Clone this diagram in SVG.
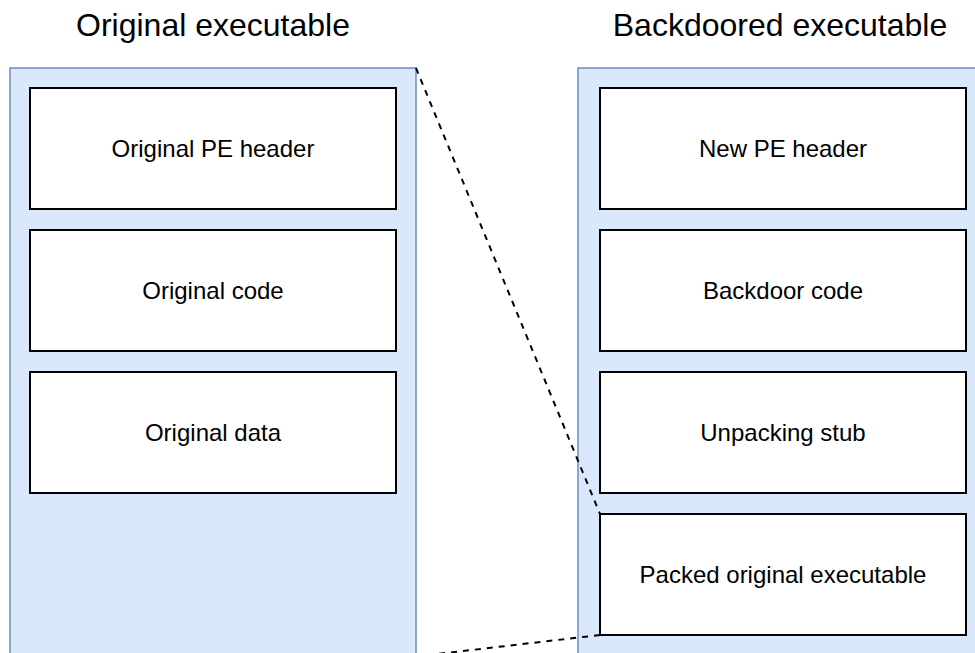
<svg xmlns="http://www.w3.org/2000/svg" width="975" height="653" viewBox="0 0 975 653">
<style>
.container{fill:#dae8fc;stroke:#6c8ebf;stroke-width:1.5}
.box{fill:#ffffff;stroke:#000000;stroke-width:2}
.title{font-family:"Liberation Sans",Arial,sans-serif;font-size:32px;fill:#000000;text-anchor:middle}
.label{font-family:"Liberation Sans",Arial,sans-serif;font-size:24px;fill:#000000;text-anchor:middle}
.dash{fill:none;stroke:#000000;stroke-width:2;stroke-dasharray:6 6}
</style>
<rect x="0" y="0" width="975" height="653" fill="#ffffff"/>
<g id="original-executable">
<rect class="container" x="10" y="68" width="406" height="600"/>
<text class="title" x="213" y="36">Original executable</text>
</g>
<g id="backdoored-executable">
<rect class="container" x="578" y="68" width="410" height="600"/>
<text class="title" x="780" y="36">Backdoored executable</text>
</g>
<g id="original-pe-header">
<rect class="box" x="30" y="88" width="366" height="121"/>
<text class="label" x="213" y="157">Original PE header</text>
</g>
<g id="original-code">
<rect class="box" x="30" y="230" width="366" height="121"/>
<text class="label" x="213" y="299">Original code</text>
</g>
<g id="original-data">
<rect class="box" x="30" y="372" width="366" height="121"/>
<text class="label" x="213" y="441">Original data</text>
</g>
<g id="new-pe-header">
<rect class="box" x="600" y="88" width="366" height="121"/>
<text class="label" x="783" y="157">New PE header</text>
</g>
<g id="backdoor-code">
<rect class="box" x="600" y="230" width="366" height="121"/>
<text class="label" x="783" y="299">Backdoor code</text>
</g>
<g id="unpacking-stub">
<rect class="box" x="600" y="372" width="366" height="121"/>
<text class="label" x="783" y="441">Unpacking stub</text>
</g>
<g id="packed-original-executable">
<rect class="box" x="600" y="514" width="366" height="121"/>
<text class="label" x="783" y="583">Packed original executable</text>
</g>
<g id="connectors">
<line class="dash" x1="416" y1="68" x2="600" y2="514"/>
<line class="dash" x1="600" y1="635" x2="416" y2="656.5"/>
</g>
</svg>
